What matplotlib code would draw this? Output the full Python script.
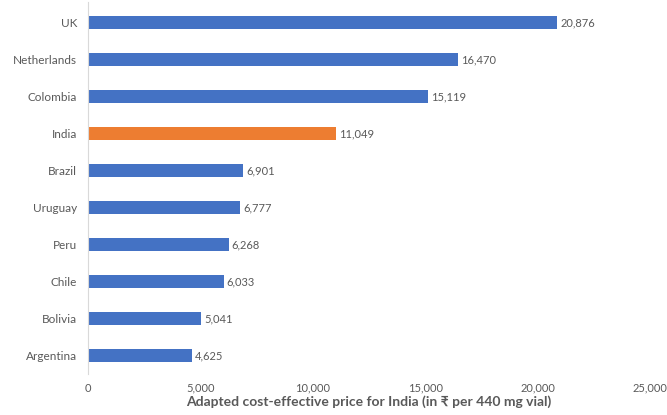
import matplotlib
matplotlib.use('Agg')
from matplotlib import pyplot as plt

plt.rcParams['font.family'] = ['Lato', 'Noto Sans', 'DejaVu Sans']

countries = ['UK', 'Netherlands', 'Colombia', 'India', 'Brazil',
             'Uruguay', 'Peru', 'Chile', 'Bolivia', 'Argentina']
prices = [20876, 16470, 15119, 11049, 6901, 6777, 6268, 6033, 5041, 4625]
highlight = 'India'

blue = '#4472C4'
orange = '#ED7D31'
grey = '#595959'

fig = plt.figure(figsize=(6.67, 4.15), dpi=100)
ax = fig.add_axes([0.132, 0.098, 0.8426, 0.896])

pos = list(range(len(countries)))[::-1]
colors = [orange if c == highlight else blue for c in countries]
ax.barh(pos, prices, height=0.36, color=colors)

for p, v in zip(pos, prices):
    ax.text(v + 120, p, f'{v:,}', va='center', ha='left', fontsize=8, color=grey)

ax.set_yticks(pos)
ax.set_yticklabels(countries, fontsize=8.5, color=grey)
ax.set_xlim(0, 25000)
ax.set_ylim(-0.5, len(countries) - 0.45)
ax.set_xticks(range(0, 25001, 5000))
ax.set_xticklabels([f'{t:,}' for t in range(0, 25001, 5000)], fontsize=8, color=grey)
ax.tick_params(axis='x', length=0, pad=6)
ax.tick_params(axis='y', length=0, pad=8)

for s in ['top', 'right', 'bottom']:
    ax.spines[s].set_visible(False)
ax.spines['left'].set_color('#D9D9D9')
ax.spines['left'].set_linewidth(0.8)

ax.set_xlabel('Adapted cost-effective price for India (in ₹ per 440 mg vial)',
              fontsize=10, fontweight='bold', color=grey, labelpad=1)

fig.savefig('out.png', dpi=100)
